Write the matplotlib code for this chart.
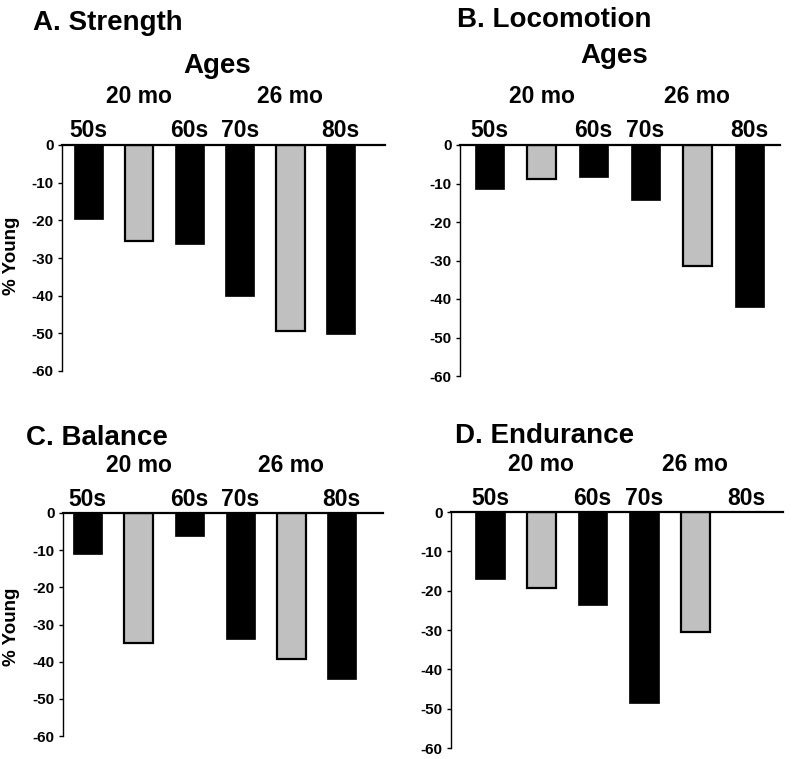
import numpy as np
import matplotlib
matplotlib.use('Agg')
import matplotlib.pyplot as plt
from matplotlib.transforms import blended_transform_factory

plt.rcParams['font.family'] = ['Liberation Sans', 'DejaVu Sans']
plt.rcParams['font.weight'] = 'bold'
plt.rcParams['axes.unicode_minus'] = False

# data
is_gray = [False, True, False, False, True, False]
decade_labels = ['50s', '', '60s', '70s', '', '80s']
month_labels = ['', '20 mo', '', '', '26 mo', '']

strength = [-19.6, -25.6, -26.3, -40.2, -49.5, -50.2]
locomotion = [-11.3, -8.9, -8.3, -14.2, -31.4, -42.0]
balance = [-11.0, -35.0, -6.3, -34.0, -39.2, -44.7]
endurance = [-17.0, -19.3, -23.6, -48.6, -30.4, np.nan]

yticks = [0, -10, -20, -30, -40, -50, -60]

W, H = 795, 759


def rect(l, r, t, b):
    return [l / W, 1 - b / H, (r - l) / W, (b - t) / H]


# layout per panel (pixels)
panels = [
    dict(title='A. Strength', vals=strength, box=(62, 385, 145, 371), xlim=(-0.526, 5.88),
         title_xy=(33, 30), ages=(217, 72.7), mo_y=102.7, dec_y=136.7, ylabel=(11, 256)),
    dict(title='B. Locomotion', vals=locomotion, box=(460, 780, 145, 376), xlim=(-0.567, 5.59),
         title_xy=(457, 27), ages=(614, 63), mo_y=103, dec_y=137, ylabel=None),
    dict(title='C. Balance', vals=balance, box=(63, 383, 513, 736), xlim=(-0.49, 5.81),
         title_xy=(26, 445), ages=None, mo_y=471.7, dec_y=506, ylabel=(11, 627)),
    dict(title='D. Endurance', vals=endurance, box=(451, 783, 512, 748), xlim=(-0.76, 5.71),
         title_xy=(455, 443), ages=None, mo_y=470.7, dec_y=505, ylabel=None),
]

fig = plt.figure(figsize=(W / 100, H / 100), dpi=100)

for p in panels:
    ax = fig.add_axes(rect(*p['box']))
    x = np.arange(len(p['vals']))
    for i, v in enumerate(p['vals']):
        if np.isnan(v):
            continue
        if is_gray[i]:
            ax.bar(x[i], v, width=0.57, color='#c0c0c0', edgecolor='black', linewidth=1.6)
        else:
            ax.bar(x[i], v, width=0.57, color='black', edgecolor='black', linewidth=0.5)

    ax.set_xlim(*p['xlim'])
    ax.set_ylim(-60, 0)
    ax.set_xticks([])
    ax.set_yticks(yticks)
    ax.tick_params(axis='y', direction='out', length=3, width=1, labelsize=11, pad=3)
    for s in ['top', 'right', 'bottom']:
        ax.spines[s].set_visible(False)
    ax.spines['left'].set_linewidth(1)
    ax.axhline(0, color='black', lw=1.6, clip_on=False)

    trans = blended_transform_factory(ax.transData, fig.transFigure)
    for i in range(len(x)):
        if decade_labels[i]:
            ax.text(x[i], 1 - p['dec_y'] / H, decade_labels[i], transform=trans,
                    ha='center', va='baseline', fontsize=16.5)
        if month_labels[i]:
            ax.text(x[i], 1 - p['mo_y'] / H, month_labels[i], transform=trans,
                    ha='center', va='baseline', fontsize=16.5)

    tx, ty = p['title_xy']
    fig.text(tx / W, 1 - ty / H, p['title'], ha='left', va='baseline', fontsize=20)
    if p['ages']:
        ax_, ay_ = p['ages']
        fig.text(ax_ / W, 1 - ay_ / H, 'Ages', ha='center', va='baseline', fontsize=20)
    if p['ylabel']:
        lx, ly = p['ylabel']
        fig.text(lx / W, 1 - ly / H, '% Young', rotation=90, ha='center', va='center',
                 fontsize=13.5)

fig.savefig('out.png', dpi=100)
